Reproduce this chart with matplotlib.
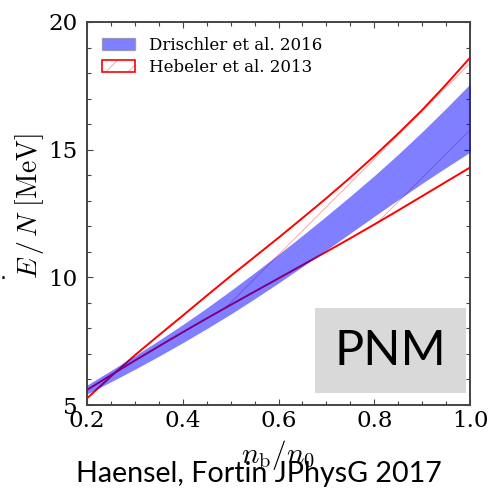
import matplotlib
matplotlib.use("Agg")
import matplotlib.pyplot as plt
from matplotlib.patches import Patch, Rectangle
from matplotlib.legend_handler import HandlerTuple
from matplotlib.ticker import MultipleLocator
import numpy as np

# ---- data ----
n_ratio = [0.20, 0.25, 0.30, 0.35, 0.40, 0.45, 0.50, 0.55, 0.60,
           0.65, 0.70, 0.75, 0.80, 0.85, 0.90, 0.95, 1.00]
hebeler_upper = [5.26, 6.12, 6.95, 7.73, 8.50, 9.28, 10.05, 10.80, 11.55,
                 12.32, 13.10, 13.91, 14.75, 15.63, 16.55, 17.55, 18.60]
hebeler_lower = [5.59, 6.17, 6.74, 7.30, 7.85, 8.39, 8.92, 9.44, 9.96,
                 10.48, 11.00, 11.53, 12.07, 12.62, 13.18, 13.74, 14.30]
drischler_upper = [5.78, 6.35, 6.93, 7.53, 8.15, 8.80, 9.48, 10.18, 10.90,
                   11.64, 12.40, 13.18, 13.98, 14.82, 15.70, 16.62, 17.57]
drischler_lower = [5.43, 5.91, 6.40, 6.91, 7.44, 7.99, 8.56, 9.16, 9.78,
                   10.42, 11.07, 11.73, 12.39, 13.04, 13.68, 14.30, 14.90]
labels = ["Drischler et al. 2016", "Hebeler et al. 2013"]
x_ticks = [0.2, 0.4, 0.6, 0.8, 1.0]
y_ticks = [5, 10, 15, 20]

plt.rcParams["font.family"] = ["DejaVu Serif"]
plt.rcParams["mathtext.fontset"] = "cm"
plt.rcParams["hatch.linewidth"] = 0.35

DPI = 200
W, H = 488, 490
fig = plt.figure(figsize=(W / DPI, H / DPI), dpi=DPI)
ax = fig.add_axes([87 / W, (H - 405) / H, 383 / W, 383 / H])

x = np.array(n_ratio)
hatch_col = "#ffa8a8"
# Hebeler band (hatched, drawn first)
ax.fill_between(x, hebeler_lower, hebeler_upper, facecolor="none",
                edgecolor=hatch_col, linewidth=0, hatch="/", zorder=1)
ax.plot(x, hebeler_upper, color="red", lw=0.7, zorder=2)
ax.plot(x, hebeler_lower, color="red", lw=0.7, zorder=2)
# Drischler band (semi-transparent blue, on top)
ax.fill_between(x, drischler_lower, drischler_upper, color="blue",
                alpha=0.5, linewidth=0, zorder=3)

ax.set_xlim(0.2, 1.0)
ax.set_ylim(5, 20)
ax.set_xticks(x_ticks)
ax.set_yticks(y_ticks)
ax.set_xticklabels([f"{v:.1f}" for v in x_ticks])
ax.set_yticklabels([str(v) for v in y_ticks])
ax.xaxis.set_minor_locator(MultipleLocator(0.05))
ax.yaxis.set_minor_locator(MultipleLocator(1))
ax.tick_params(which="both", direction="in", top=True, right=True,
               color="#444444", width=0.4)
ax.tick_params(which="major", length=2.2, labelsize=8.3)
ax.tick_params(axis="x", which="major", pad=1.8)
ax.tick_params(axis="y", which="major", pad=3.4)
ax.tick_params(which="minor", length=1.3)
for sp in ax.spines.values():
    sp.set_color("#444444")
    sp.set_linewidth(0.7)

ax.set_xlabel(r"$n_{\rm b}/n_0$", fontsize=10.5)
ax.xaxis.set_label_coords(0.5, -0.086)
fig.text(29 / W, 1 - 206 / H, r"$E\,/\,N\ [\mathrm{MeV}]$", rotation=90,
         ha="center", va="center", fontsize=10)

# legend
h_blue = Patch(facecolor="blue", alpha=0.5, edgecolor="#777777", lw=0.5)
h_heb = (Patch(facecolor="none", edgecolor=hatch_col, hatch="///", lw=0),
         Patch(facecolor="none", edgecolor="red", lw=0.6))
ax.legend([h_blue, h_heb], labels, loc="upper left", frameon=False,
          fontsize=6, labelspacing=0.3,
          handler_map={tuple: HandlerTuple(ndivide=1, pad=0)})

# PNM box
ax.add_patch(Rectangle((0.595, 0.031), 0.395, 0.222, transform=ax.transAxes,
                       facecolor="#d9d9d9", edgecolor="none", zorder=5))
ax.text(0.7925, 0.142, "PNM", transform=ax.transAxes, ha="center",
        va="center", fontsize=17.5, family=["Lato", "DejaVu Sans"], zorder=6)

fig.text(259 / W, 1 - 482 / H, "Haensel, Fortin JPhysG 2017", ha="center",
         va="baseline", fontsize=10.3, family=["Lato", "DejaVu Sans"])
fig.text(3 / W, 1 - 279 / H, ".", ha="center", va="baseline", fontsize=8,
         family=["DejaVu Sans"])

fig.savefig("out.png", dpi=DPI)
